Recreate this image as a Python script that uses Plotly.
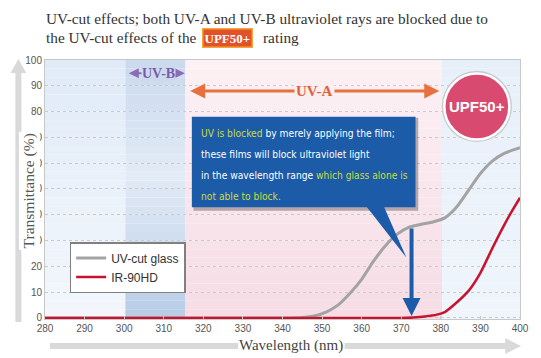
import plotly.graph_objects as go

# ---------------- data ----------------
glass_nm = [280, 300, 320, 340, 345, 348, 351, 354, 357, 360, 363, 366, 369, 372,
            375, 378, 381, 384, 387, 390, 393, 396, 400]
glass_t = [0, 0, 0, 0, 0.2, 0.8, 2.3, 5.0, 9.5, 15.0, 22.0, 28.0, 32.5, 35.2,
           36.3, 37.2, 38.8, 43.0, 49.5, 56.0, 60.8, 63.8, 66.0]
film_nm = [280, 300, 320, 340, 360, 370, 373, 376, 379, 381, 384, 387, 390, 393,
           396, 398, 400]
film_t = [0, 0, 0, 0, 0, 0, 0.2, 0.6, 1.3, 2.3, 6.0, 10.5, 17.5, 27.0,
          36.0, 41.5, 46.6]
series_names = ["UV-cut glass", "IR-90HD"]
x_ticks = [280, 290, 300, 310, 320, 330, 340, 350, 360, 370, 380, 390, 400]
y_ticks = [0, 10, 20, 30, 40, 50, 60, 70, 80, 90, 100]
title_line1 = "UV-cut effects; both UV-A and UV-B ultraviolet rays are blocked due to"
title_line2 = "the UV-cut effects of the"
badge_text = "UPF50+"
title_tail = "rating"
callout_lines = [
    "<span style='color:#cadc3e'>UV is blocked</span> by merely applying the film;",
    "these films will block ultraviolet light",
    "in the wavelength range <span style='color:#cadc3e'>which glass alone is</span>",
    "<span style='color:#cadc3e'>not able to block.</span>",
]

# ---------------- geometry ----------------
W, H = 541, 358
ML, MR, MT, MB = 45, 14, 60, 39
PW, PH = W - ML - MR, H - MT - MB
XR = [280, 400]
YR = [-0.4, 100]


def px_x(p):  # pixel -> paper x
    return (p - ML) / PW


def px_y(p):  # pixel -> paper y
    return (H - MB - p) / PH


def lerp(c1, c2, t):
    return tuple(int(round(a + (b - a) * t)) for a, b in zip(c1, c2))


shapes = []


def vgrad(x0, x1, stops, n=30):
    # stops: list of (value, rgb) from top(100) to bottom(0)
    for i in range(n):
        ya = 100 * i / n
        yb = 100 * (i + 1) / n
        ym = (ya + yb) / 2
        for j in range(len(stops) - 1):
            v0, c0 = stops[j]
            v1, c1 = stops[j + 1]
            if v1 <= ym <= v0:
                c = lerp(c0, c1, (v0 - ym) / (v0 - v1))
                break
        shapes.append(dict(type="rect", xref="x", yref="y", x0=x0, x1=x1,
                           y0=ya if i else -1, y1=yb, layer="below",
                           line=dict(width=0), fillcolor="rgb(%d,%d,%d)" % c))


vgrad(280, 300.3, [(100, (224, 235, 248)), (0, (243, 247, 252))])
vgrad(300.3, 315.5, [(100, (203, 217, 238)), (55, (226, 235, 246)), (0, (184, 204, 231))])
vgrad(315.5, 380.3, [(100, (252, 241, 244)), (0, (246, 220, 229))])
vgrad(380.3, 400, [(100, (231, 239, 249)), (0, (239, 245, 251))])

# callout box shadow + box + pointer
shapes.append(dict(type="rect", xref="x", yref="y", x0=317.5, x1=374.3, y0=41.6, y1=77.6,
                   fillcolor="rgba(0,0,0,0.28)", line=dict(width=0), layer="above"))
shapes.append(dict(type="rect", xref="x", yref="y", x0=317.1, x1=373.6, y0=42.9, y1=78,
                   fillcolor="#1b5ba7", line=dict(width=0), layer="above"))
shapes.append(dict(type="path", xref="x", yref="y",
                   path="M 361.2,43.2 L 365.6,43.2 L 371.3,23.4 Z",
                   fillcolor="#1b5ba7", line=dict(width=0), layer="above"))

# UPF50+ circle
cx, cy = 389.1, 82.0
rx, ry = 33 / (PW / 120), 33 / (PH / 100.4)
shapes.append(dict(type="circle", xref="x", yref="y", x0=cx - rx * 1.08, x1=cx + rx * 1.08,
                   y0=cy - ry * 1.08, y1=cy + ry * 1.08, fillcolor="#c9c9c9",
                   line=dict(width=0), layer="above"))
shapes.append(dict(type="circle", xref="x", yref="y", x0=cx - rx, x1=cx + rx,
                   y0=cy - ry, y1=cy + ry, fillcolor="#d84a6f",
                   line=dict(color="white", width=2.5), layer="above"))

# axis arrows (decorative)
gray = "#d9d9d9"
shapes.append(dict(type="line", xref="paper", yref="paper", x0=px_x(18), x1=px_x(18),
                   y0=px_y(322), y1=px_y(72), line=dict(color=gray, width=6)))
shapes.append(dict(type="path", xref="paper", yref="paper",
                   path="M %f,%f L %f,%f L %f,%f Z" % (px_x(10), px_y(73), px_x(26), px_y(73),
                                                       px_x(18), px_y(59)),
                   fillcolor=gray, line=dict(width=0)))
shapes.append(dict(type="line", xref="paper", yref="paper", x0=px_x(50), x1=px_x(241),
                   y0=px_y(346), y1=px_y(346), line=dict(color=gray, width=6)))
shapes.append(dict(type="line", xref="paper", yref="paper", x0=px_x(349), x1=px_x(513),
                   y0=px_y(346), y1=px_y(346), line=dict(color=gray, width=6)))
shapes.append(dict(type="path", xref="paper", yref="paper",
                   path="M %f,%f L %f,%f L %f,%f Z" % (px_x(512), px_y(338), px_x(512), px_y(354),
                                                       px_x(528), px_y(346)),
                   fillcolor=gray, line=dict(width=0)))

fig = go.Figure()
fig.add_trace(go.Scatter(x=glass_nm, y=glass_t, name=series_names[0], mode="lines",
                         line=dict(color="#a3a3a3", width=3, shape="spline", smoothing=0.6)))
fig.add_trace(go.Scatter(x=film_nm, y=film_t, name=series_names[1], mode="lines",
                         line=dict(color="#c8132f", width=2.5, shape="spline", smoothing=0.6)))

serif = "Liberation Serif, Times New Roman, serif"
narrow = "Liberation Sans Narrow, DejaVu Sans Condensed, Arial Narrow, sans-serif"
ann = []
# title
ann.append(dict(text=title_line1, xref="paper", yref="paper", x=px_x(44), y=px_y(18),
                xanchor="left", yanchor="middle", showarrow=False,
                font=dict(family=serif, size=15.3, color="#333")))
ann.append(dict(text=title_line2, xref="paper", yref="paper", x=px_x(44), y=px_y(38),
                xanchor="left", yanchor="middle", showarrow=False,
                font=dict(family=serif, size=15.3, color="#333")))
ann.append(dict(text="<b>" + badge_text + "</b>", xref="paper", yref="paper", x=px_x(230.5),
                y=px_y(38), xanchor="center", yanchor="middle", showarrow=False,
                bgcolor="#e2522a", bordercolor="#f3a537", borderwidth=1.5, borderpad=1,
                font=dict(family=serif, size=13, color="white")))
ann.append(dict(text=title_tail, xref="paper", yref="paper", x=px_x(264), y=px_y(38),
                xanchor="left", yanchor="middle", showarrow=False,
                font=dict(family=serif, size=15.3, color="#333")))
# axis titles
ann.append(dict(text="Transmittance (%)", xref="paper", yref="paper", x=px_x(18), y=px_y(191),
                textangle=-90, showarrow=False, bgcolor="white", borderpad=1,
                font=dict(family=serif, size=15.5, color="#555")))
ann.append(dict(text="Wavelength (nm)", xref="paper", yref="paper", x=px_x(295), y=px_y(356),
                showarrow=False,
                font=dict(family=serif, size=15, color="#444")))
# UV-B
ann.append(dict(x=315.3, y=94.9, ax=300.8, ay=94.9, xref="x", yref="y", axref="x", ayref="y",
                text="", showarrow=True, arrowside="end+start", arrowhead=2, arrowsize=1,
                arrowwidth=2, arrowcolor="#8a6db5"))
ann.append(dict(x=308.6, y=94.9, xref="x", yref="y", text="<b>UV-B</b>", showarrow=False,
                bgcolor="rgb(205,218,238)", borderpad=0,
                font=dict(family=serif, size=14, color="#7a5aab")))
# UV-A
ann.append(dict(x=379.6, y=88, ax=316.3, ay=88, xref="x", yref="y", axref="x", ayref="y",
                text="", showarrow=True, arrowside="end+start", arrowhead=2, arrowsize=1,
                arrowwidth=3, arrowcolor="#e8703f"))
ann.append(dict(x=348.2, y=88, xref="x", yref="y", text="<b>UV-A</b>", showarrow=False,
                bgcolor="rgb(251,238,241)", borderpad=1,
                font=dict(family=serif, size=15, color="#e0603a")))
# UPF circle text
ann.append(dict(x=cx, y=cy, xref="x", yref="y", text="<b>UPF50+</b>", showarrow=False,
                font=dict(family="Liberation Sans, Arial, sans-serif", size=15, color="white")))
# vertical blue arrow
ann.append(dict(x=372.6, y=0.8, ax=372.6, ay=35.3, xref="x", yref="y", axref="x", ayref="y",
                text="", showarrow=True, arrowhead=2, arrowsize=0.9, arrowwidth=4,
                arrowcolor="#1b5ba7", standoff=0))
# callout text
line_y = [71.7, 63.4, 55.3, 47.2]
for t, yy in zip(callout_lines, line_y):
    ann.append(dict(x=318.9, y=yy, xref="x", yref="y", text=t, showarrow=False,
                    xanchor="left", yanchor="middle",
                    font=dict(family=narrow, size=10.2, color="white")))

fig.update_layout(
    width=W, height=H,
    margin=dict(l=ML, r=MR, t=MT, b=MB),
    paper_bgcolor="white", plot_bgcolor="white",
    shapes=shapes, annotations=ann,
    showlegend=True,
    legend=dict(x=px_x(70), y=px_y(242), xanchor="left", yanchor="top",
                bgcolor="white", bordercolor="#808080", borderwidth=1.5,
                font=dict(family="Liberation Sans, Arial, sans-serif", size=12, color="#333"),
                itemwidth=30, tracegroupgap=0),
    xaxis=dict(range=XR, tickvals=x_ticks, ticktext=[str(v) for v in x_ticks],
               showgrid=False, zeroline=False, showline=True, mirror=True,
               linecolor="#c8c8c8", linewidth=1, ticks="inside", ticklen=3,
               tickcolor="#c8c8c8",
               tickfont=dict(family="Liberation Sans, Arial, sans-serif", size=10, color="#555")),
    yaxis=dict(range=YR, tickvals=y_ticks, ticktext=[str(v) for v in y_ticks],
               showgrid=True, gridcolor="#c9c9c9", griddash="dot", gridwidth=1,
               zeroline=False, showline=True, mirror=True, linecolor="#c8c8c8",
               linewidth=1, ticks="",
               tickfont=dict(family="Liberation Sans, Arial, sans-serif", size=10, color="#555")),
)

fig.write_html("out.html", config={"displayModeBar": False},
               post_script="document.body.style.margin='0';document.body.style.overflow='hidden';")
